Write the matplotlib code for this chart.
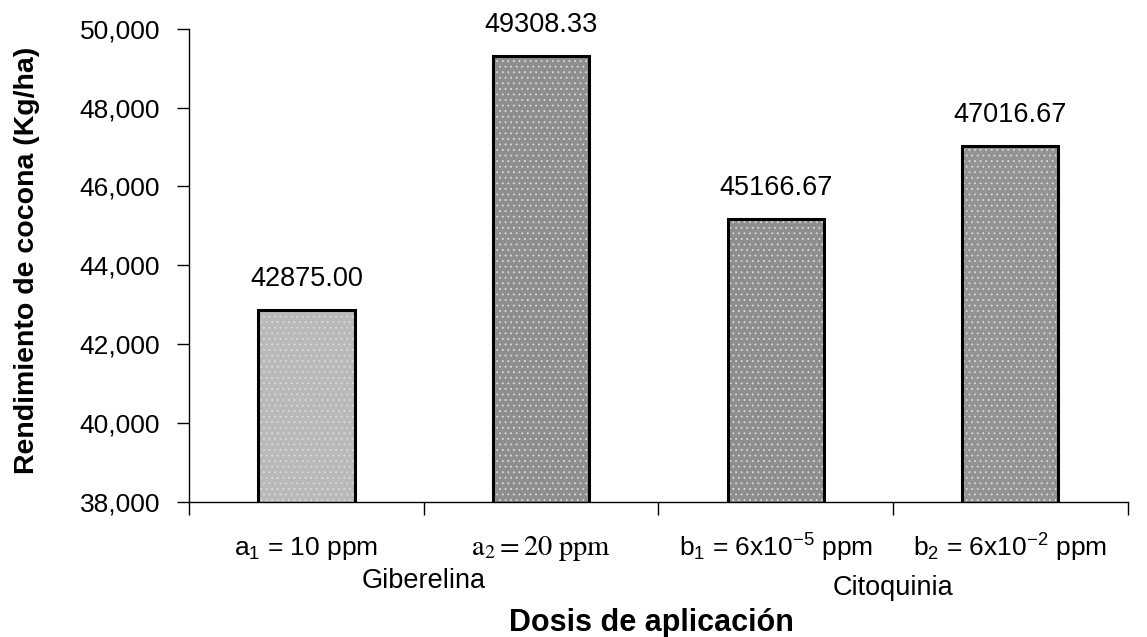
import matplotlib
matplotlib.use("Agg")
import matplotlib.pyplot as plt
import numpy as np

plt.rcParams['font.family'] = ['Liberation Sans', 'DejaVu Sans']
plt.rcParams['mathtext.fontset'] = 'custom'
plt.rcParams['mathtext.rm'] = 'Liberation Sans'
plt.rcParams['mathtext.it'] = 'Liberation Sans'
plt.rcParams['hatch.linewidth'] = 0.6

# ---- data ----
categories = [r'$\mathrm{a_1}$ = 10 ppm', r'$\mathrm{a_2 = 20\ ppm}$',
              r'$\mathrm{b_1}$ = 6x10$^{\mathrm{-5}}$ ppm', r'$\mathrm{b_2}$ = 6x10$^{\mathrm{-2}}$ ppm']
values = [42875.00, 49308.33, 45166.67, 47016.67]
value_labels = ['42875.00', '49308.33', '45166.67', '47016.67']
groups = ['Giberelina', 'Citoquinia']
group_members = [[0, 1], [2, 3]]
yticks = [38000, 40000, 42000, 44000, 46000, 48000, 50000]
ylabel = 'Rendimiento de cocona (Kg/ha)'
xlabel = 'Dosis de aplicación'

bar_colors = ['#b9b9b9', '#8e8e8e', '#8e8e8e', '#939393']

fig = plt.figure(figsize=(11.47, 6.37), dpi=100)
ax = fig.add_axes([0.165, 0.212, 0.818, 0.743])

x = np.arange(len(categories))
ax.bar(x, values, width=0.41, color=bar_colors, hatch='...', edgecolor='#dcdcdc',
       linewidth=0, zorder=2)
ax.bar(x, values, width=0.41, facecolor='none', edgecolor='black', linewidth=2.2, zorder=3)

for xi, v, lab in zip(x, values, value_labels):
    ax.annotate(lab, (xi, v), xytext=(0, 13), textcoords='offset points',
                ha='center', va='bottom', fontsize=19.5)

ax.set_ylim(yticks[0], yticks[-1])
ax.set_xlim(-0.5, len(categories) - 0.5)
ax.set_yticks(yticks)
ax.set_yticklabels([f'{t:,}' for t in yticks], fontsize=19)
ax.set_xticks(np.arange(len(categories) + 1) - 0.5)
ax.set_xticklabels([])
ax.tick_params(axis='both', direction='out', length=9, width=1, colors='black')
ax.tick_params(axis='y', pad=12)
for s in ['top', 'right']:
    ax.spines[s].set_visible(False)
for s in ['left', 'bottom']:
    ax.spines[s].set_linewidth(1)

# category labels
for i, (xi, lab) in enumerate(zip(x, categories)):
    if i == 1:
        ax.text(xi, -0.098, lab, transform=ax.get_xaxis_transform(), ha='center', va='center',
                fontsize=20.5, math_fontfamily='stix')
    else:
        ax.text(xi, -0.098, lab, transform=ax.get_xaxis_transform(), ha='center', va='center',
                fontsize=19)

# group labels
for g, mem, dy in zip(groups, group_members, [-0.168, -0.182]):
    ax.text(np.mean([x[m] for m in mem]), dy, g, transform=ax.get_xaxis_transform(),
            ha='center', va='center', fontsize=19.5)

ax.set_ylabel(ylabel, fontsize=20.5, fontweight='bold')
ax.yaxis.set_label_coords(-0.159, 0.51)
fig.text(0.568, 0.022, xlabel, ha='center', va='center', fontsize=22, fontweight='bold')

fig.savefig('out.png', dpi=100, facecolor='white')
